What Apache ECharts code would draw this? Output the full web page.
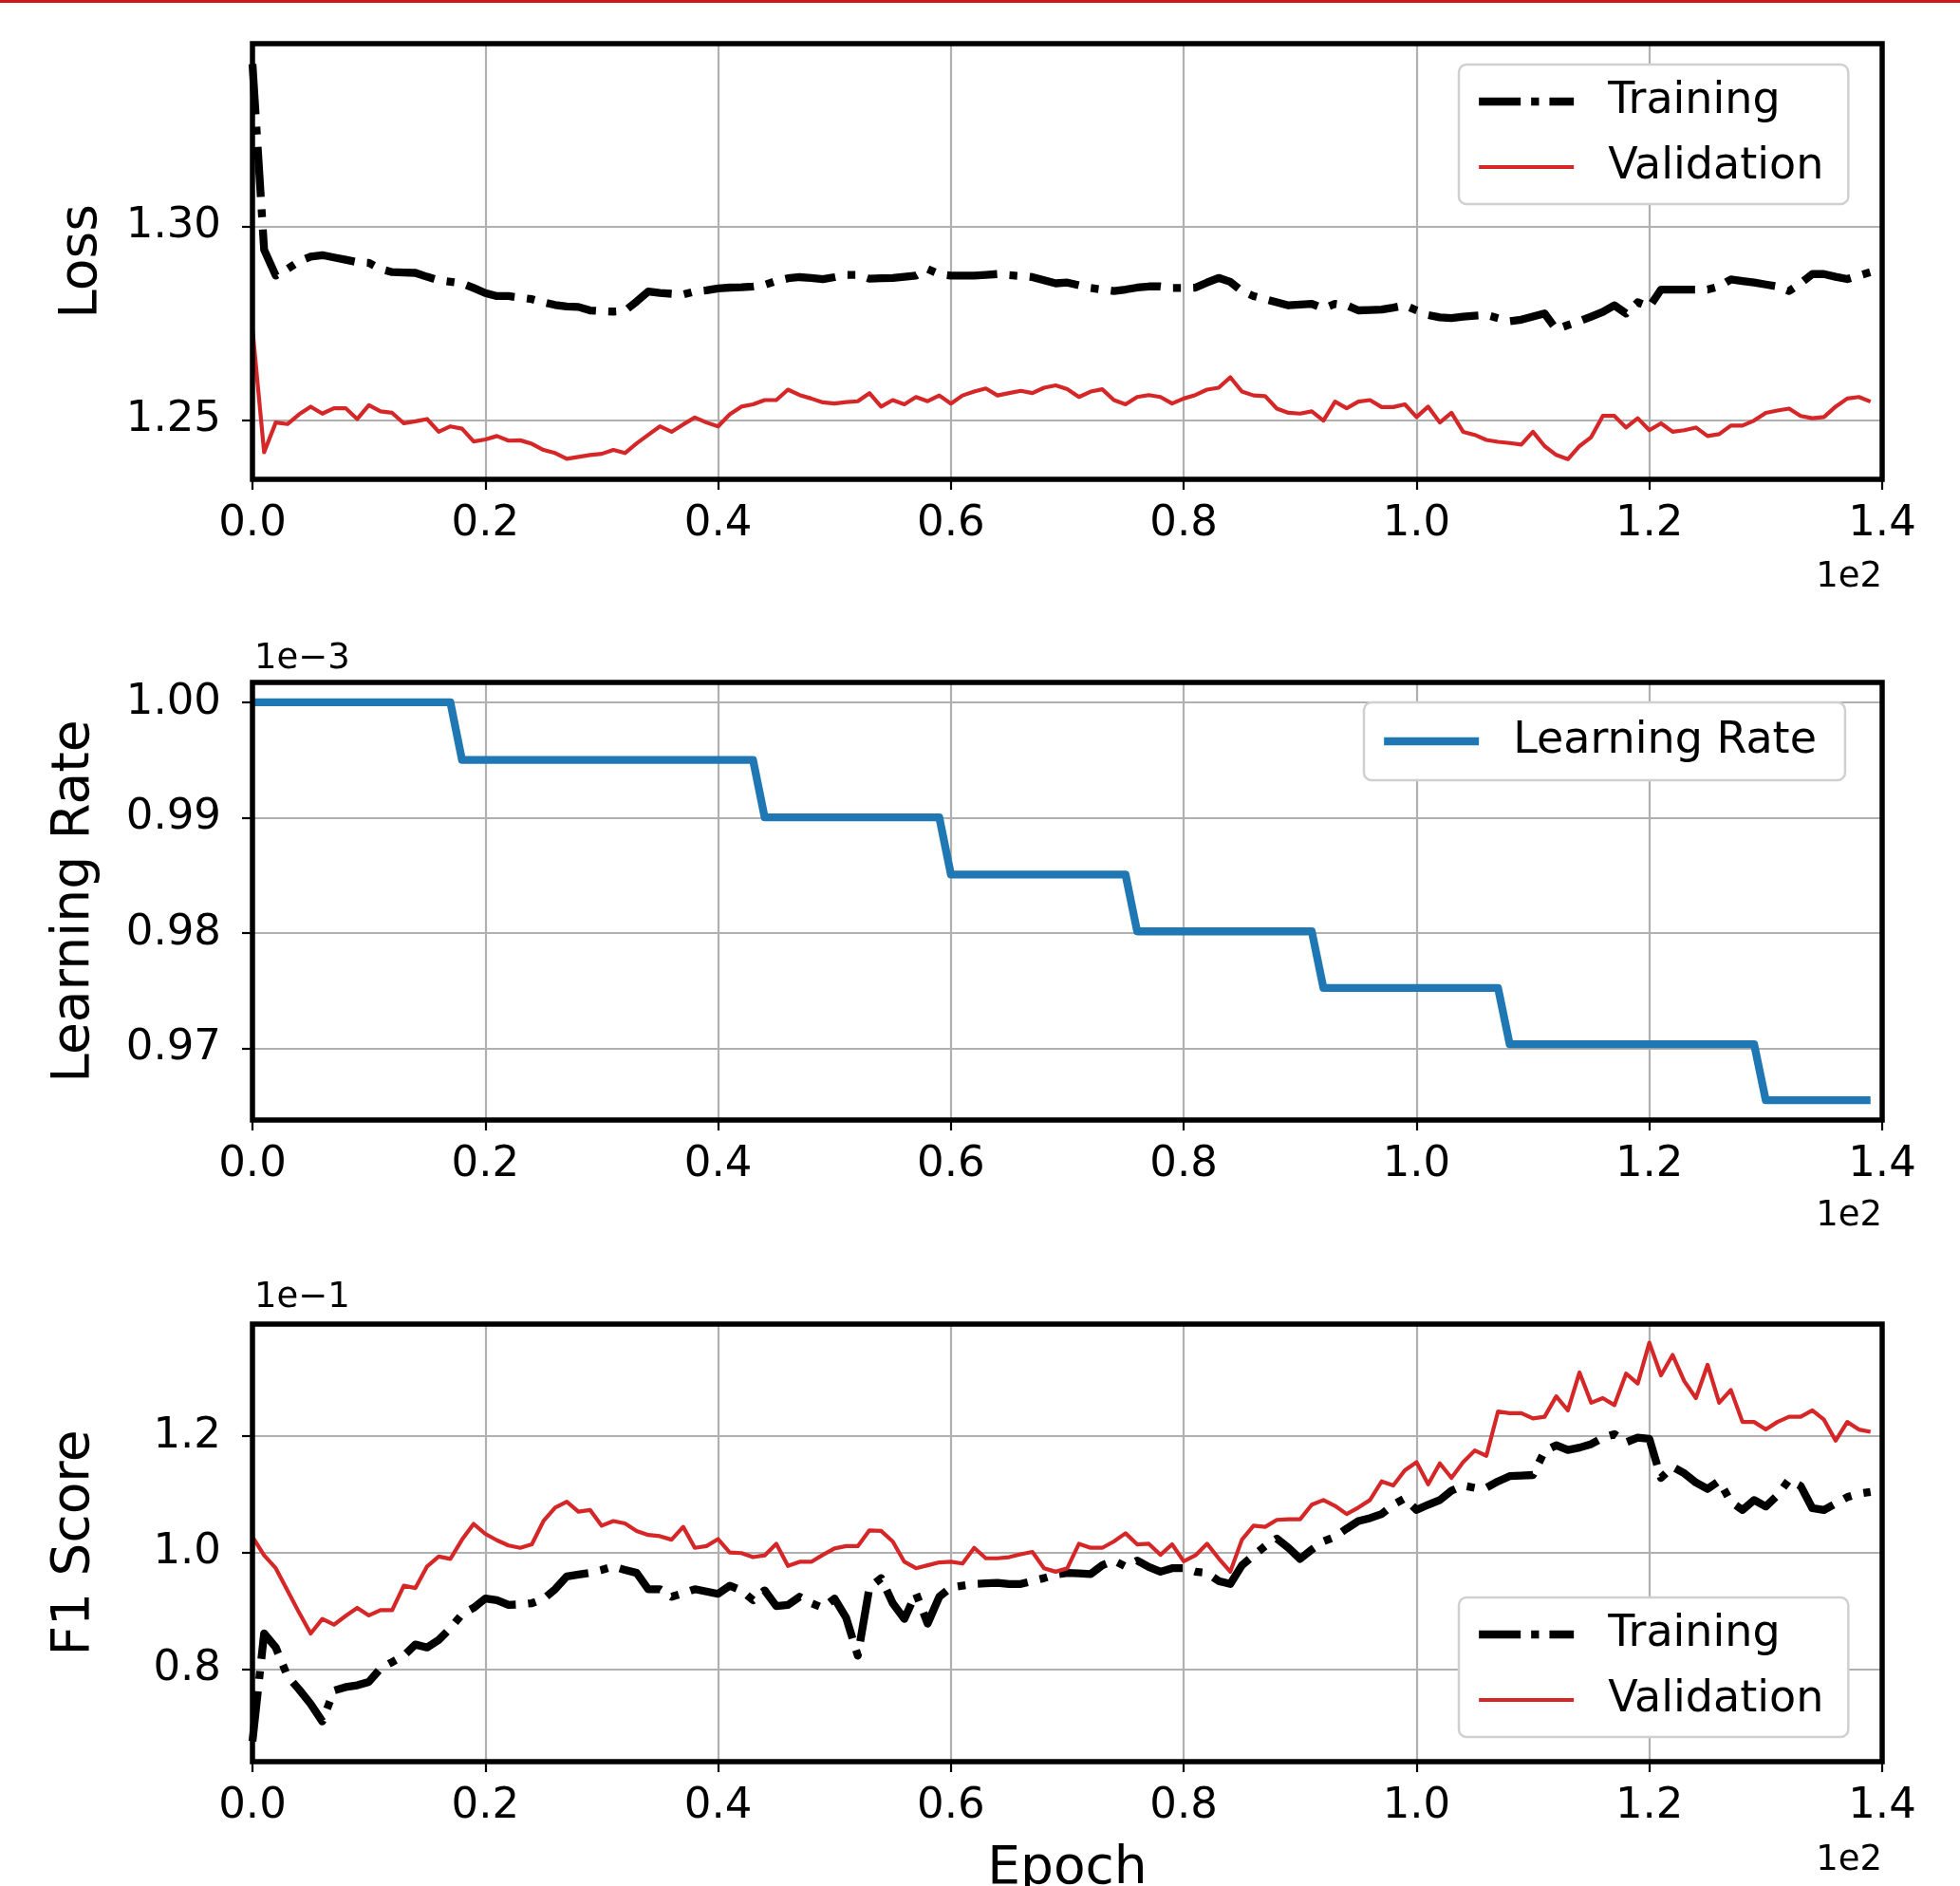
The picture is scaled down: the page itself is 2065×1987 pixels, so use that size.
<!DOCTYPE html>
<html>
<head>
<meta charset="utf-8">
<script src="https://cdn.jsdelivr.net/npm/echarts@6/dist/echarts.min.js"></script>
<style>
    html, body { margin: 0; padding: 0; background: #fff; }
    #chart_train { width: 2065px; height: 1987px; }
</style>
</head>
<body>
<div id="chart_train"></div>
<script>
// epochs 0..139, axis shown in units of 1e2
var epochs = Array.from({length: 140}, function (_, i) { return i; });
var xTicks = [0, 20, 40, 60, 80, 100, 120, 140];

var lossTicks = [1.25, 1.30];
var lrTicks = [0.97, 0.98, 0.99, 1.00];
var f1Ticks = [0.8, 1.0, 1.2];

var lossTrain = [
    1.342, 1.294, 1.2873, 1.289, 1.291, 1.2922, 1.2926, 1.292, 1.2914, 1.2908,
    1.2906, 1.289, 1.2882, 1.2881, 1.288, 1.287, 1.2861, 1.2857, 1.2853, 1.2841,
    1.2828, 1.282, 1.282, 1.2816, 1.2812, 1.2804, 1.2797, 1.2793, 1.2792, 1.2783,
    1.2781, 1.278, 1.2782, 1.2806, 1.2832, 1.2828, 1.2826, 1.2824, 1.2832, 1.2835,
    1.284, 1.2842, 1.2843, 1.2845, 1.2849, 1.2859, 1.2866, 1.2869, 1.2867, 1.2864,
    1.2869, 1.2875, 1.2875, 1.2865, 1.2866, 1.2867, 1.287, 1.2873, 1.289, 1.2877,
    1.2873, 1.2873, 1.2873, 1.2875, 1.2877, 1.2874, 1.2872, 1.2869, 1.2861, 1.2853,
    1.2855, 1.2848, 1.2841, 1.2837, 1.2833, 1.2837, 1.2842, 1.2845, 1.2845, 1.2841,
    1.2841, 1.2842, 1.2855, 1.2867, 1.2857, 1.2833, 1.282, 1.2812, 1.2804, 1.2796,
    1.2798, 1.28, 1.2788, 1.28, 1.2796, 1.2783, 1.2784, 1.2785, 1.279, 1.2796,
    1.2783, 1.2771, 1.2765, 1.2763, 1.2767, 1.2769, 1.2771, 1.2763, 1.2755, 1.2759,
    1.2767, 1.2775, 1.2734, 1.2745, 1.2755, 1.2767, 1.2779, 1.2796, 1.2775, 1.2804,
    1.2792, 1.2837, 1.2837, 1.2837, 1.2837, 1.2837, 1.2845, 1.2863, 1.2859, 1.2855,
    1.285, 1.2845, 1.2833, 1.2853, 1.2877, 1.2877, 1.287, 1.2864, 1.2873, 1.2882
];
var lossVal = [
    1.2735, 1.2416, 1.2493, 1.2489, 1.2514, 1.2534, 1.2516, 1.253, 1.253, 1.2502,
    1.2538, 1.2522, 1.2518, 1.2491, 1.2496, 1.2502, 1.2469, 1.2483, 1.2477, 1.2444,
    1.2449, 1.2458, 1.2446, 1.2447, 1.2438, 1.2422, 1.2414, 1.2399, 1.2404, 1.2409,
    1.2412, 1.2422, 1.2414, 1.2439, 1.2461, 1.2483, 1.2469, 1.2488, 1.2506, 1.2493,
    1.2483, 1.2514, 1.2534, 1.254, 1.2551, 1.2551, 1.2578, 1.2564, 1.2555, 1.2545,
    1.2542, 1.2546, 1.2548, 1.2569, 1.2534, 1.2551, 1.254, 1.2559, 1.2548, 1.2563,
    1.2542, 1.2563, 1.2573, 1.2581, 1.2563, 1.2569, 1.2575, 1.2569, 1.2583, 1.2589,
    1.2579, 1.2559, 1.2573, 1.2579, 1.2551, 1.254, 1.2559, 1.2564, 1.2559, 1.2542,
    1.2555, 1.2564, 1.2578, 1.2583, 1.261, 1.2573, 1.2563, 1.2561, 1.2529, 1.2518,
    1.2516, 1.2522, 1.2498, 1.2547, 1.253, 1.2547, 1.2551, 1.2533, 1.2533, 1.254,
    1.2507, 1.2534, 1.2493, 1.2518, 1.2469, 1.2461, 1.2448, 1.2443, 1.244, 1.2436,
    1.2469, 1.2432, 1.2409, 1.2398, 1.2432, 1.2455, 1.251, 1.251, 1.248, 1.2504,
    1.2473, 1.2491, 1.2469, 1.2473, 1.248, 1.2458, 1.2463, 1.2485, 1.2485, 1.2498,
    1.2518, 1.2524, 1.2529, 1.251, 1.2504, 1.2507, 1.2534, 1.2555, 1.2559, 1.2547
];

// learning rate, units of 1e-3
var lrValues = [
    1.0, 1.0, 1.0, 1.0, 1.0, 1.0, 1.0, 1.0, 1.0, 1.0,
    1.0, 1.0, 1.0, 1.0, 1.0, 1.0, 1.0, 1.0, 0.995, 0.995,
    0.995, 0.995, 0.995, 0.995, 0.995, 0.995, 0.995, 0.995, 0.995, 0.995,
    0.995, 0.995, 0.995, 0.995, 0.995, 0.995, 0.995, 0.995, 0.995, 0.995,
    0.995, 0.995, 0.995, 0.995, 0.990025, 0.990025, 0.990025, 0.990025, 0.990025, 0.990025,
    0.990025, 0.990025, 0.990025, 0.990025, 0.990025, 0.990025, 0.990025, 0.990025, 0.990025, 0.990025,
    0.985075, 0.985075, 0.985075, 0.985075, 0.985075, 0.985075, 0.985075, 0.985075, 0.985075, 0.985075,
    0.985075, 0.985075, 0.985075, 0.985075, 0.985075, 0.985075, 0.98015, 0.98015, 0.98015, 0.98015,
    0.98015, 0.98015, 0.98015, 0.98015, 0.98015, 0.98015, 0.98015, 0.98015, 0.98015, 0.98015,
    0.98015, 0.98015, 0.975249, 0.975249, 0.975249, 0.975249, 0.975249, 0.975249, 0.975249, 0.975249,
    0.975249, 0.975249, 0.975249, 0.975249, 0.975249, 0.975249, 0.975249, 0.975249, 0.970373, 0.970373,
    0.970373, 0.970373, 0.970373, 0.970373, 0.970373, 0.970373, 0.970373, 0.970373, 0.970373, 0.970373,
    0.970373, 0.970373, 0.970373, 0.970373, 0.970373, 0.970373, 0.970373, 0.970373, 0.970373, 0.970373,
    0.965521, 0.965521, 0.965521, 0.965521, 0.965521, 0.965521, 0.965521, 0.965521, 0.965521, 0.965521
];

// F1, units of 1e-1
var f1Train = [
    0.676, 0.861, 0.837, 0.788, 0.765, 0.74, 0.71, 0.763, 0.769, 0.772,
    0.778, 0.801, 0.812, 0.823, 0.842, 0.837, 0.85, 0.87, 0.894, 0.905,
    0.921, 0.918, 0.91, 0.911, 0.913, 0.92, 0.937, 0.959, 0.962, 0.965,
    0.97, 0.976, 0.97, 0.965, 0.937, 0.937, 0.924, 0.93, 0.937, 0.933,
    0.929, 0.943, 0.935, 0.918, 0.935, 0.908, 0.91, 0.924, 0.913, 0.905,
    0.921, 0.888, 0.823, 0.94, 0.956, 0.913, 0.886, 0.93, 0.878, 0.924,
    0.94, 0.943, 0.946, 0.947, 0.948, 0.946, 0.946, 0.951, 0.956, 0.962,
    0.965, 0.964, 0.963, 0.978, 0.986, 0.976, 0.986, 0.975, 0.967, 0.973,
    0.973, 0.967, 0.965, 0.951, 0.946, 0.978, 0.995, 1.011, 1.024, 1.008,
    0.989, 1.005, 1.019, 1.027, 1.041, 1.054, 1.059, 1.066, 1.082, 1.093,
    1.073, 1.082, 1.09, 1.106, 1.115, 1.111, 1.111, 1.122, 1.131, 1.132,
    1.133, 1.174, 1.184, 1.176, 1.18, 1.186, 1.197, 1.203, 1.189, 1.197,
    1.195, 1.128, 1.147, 1.136, 1.12, 1.109, 1.123, 1.087, 1.073, 1.09,
    1.079, 1.098, 1.125, 1.114, 1.076, 1.073, 1.084, 1.095, 1.101, 1.104
];
var f1Val = [
    1.027, 0.995, 0.973, 0.935, 0.897, 0.861, 0.886, 0.876, 0.891, 0.905,
    0.892, 0.901, 0.901, 0.943, 0.939, 0.976, 0.993, 0.989, 1.022, 1.049,
    1.032, 1.021, 1.012, 1.008, 1.014, 1.054, 1.077, 1.087, 1.07, 1.073,
    1.046, 1.054, 1.05, 1.037, 1.03, 1.028, 1.022, 1.044, 1.008, 1.011,
    1.023, 1.0, 0.999, 0.992, 0.995, 1.015, 0.977, 0.984, 0.984, 0.996,
    1.007, 1.011, 1.011, 1.038, 1.037, 1.019, 0.984, 0.973, 0.978, 0.983,
    0.984, 0.981, 1.008, 0.99, 0.99, 0.992, 0.997, 1.001, 0.973, 0.967,
    0.973, 1.015, 1.008, 1.008, 1.019, 1.033, 1.014, 1.015, 0.996, 1.014,
    0.985, 0.995, 1.015, 0.99, 0.967, 1.022, 1.046, 1.044, 1.056, 1.057,
    1.057, 1.082, 1.09, 1.08, 1.066, 1.077, 1.09, 1.122, 1.115, 1.141,
    1.155, 1.117, 1.153, 1.128, 1.155, 1.175, 1.166, 1.242, 1.239, 1.239,
    1.23, 1.233, 1.268, 1.244, 1.309, 1.257, 1.265, 1.253, 1.307, 1.29,
    1.36, 1.304, 1.339, 1.294, 1.265, 1.322, 1.257, 1.279, 1.224, 1.224,
    1.211, 1.224, 1.233, 1.233, 1.244, 1.228, 1.192, 1.224, 1.211, 1.207
];

var FONT = 'DejaVu Sans';
var myChart = echarts.init(document.getElementById('chart_train'));

function pairs(ys) {
    return epochs.map(function (e, i) { return [e, ys[i]]; });
}

var grids = [
    {left: 266, width: 1717, top: 46, height: 459},
    {left: 266, width: 1717, top: 719, height: 461},
    {left: 266, width: 1717, top: 1395, height: 461}
].map(function (g) {
    return Object.assign({
        show: true, z: 5, borderColor: '#000', borderWidth: 5.5,
        backgroundColor: 'transparent',
        outerBoundsMode: 'none'   // keep the box fixed, the name may run off the page
    }, g);
});

function xAxis(idx, withName) {
    return {
        type: 'value', gridIndex: idx, min: 0, max: 140, interval: 20,
        axisLine: {show: false},
        axisTick: {show: true, length: 11, lineStyle: {color: '#000', width: 2.2}},
        axisLabel: {
            fontFamily: FONT, fontSize: 45, color: '#000', margin: 25,
            formatter: function (v) { return (v / 100).toFixed(1); }
        },
        splitLine: {show: true, lineStyle: {color: '#b0b0b0', width: 2.2}},
        name: withName ? 'Epoch' : '',
        nameLocation: 'middle', nameGap: 86,
        nameTextStyle: {fontFamily: FONT, fontSize: 55, color: '#000'}
    };
}

function yAxis(idx, min, max, ticks, digits, name, gap) {
    return {
        type: 'value', gridIndex: idx, min: min, max: max,
        axisLine: {show: false},
        axisTick: {show: true, length: 11, customValues: ticks, lineStyle: {color: '#000', width: 2.2}},
        axisLabel: {
            fontFamily: FONT, fontSize: 45, color: '#000', margin: 33, customValues: ticks,
            formatter: function (v) { return v.toFixed(digits); }
        },
        splitLine: {show: true, lineStyle: {color: '#b0b0b0', width: 2.2}},
        name: name, nameLocation: 'middle', nameGap: gap, nameRotate: 90,
        nameTextStyle: {fontFamily: FONT, fontSize: 55, color: '#000'}
    };
}

var dashDot = [53, 13, 8.3, 13];
var legendDash = [44, 11, 8.3, 11];

function lineSeries(name, idx, ys, color, width, type) {
    return {
        name: name, type: 'line', xAxisIndex: idx, yAxisIndex: idx,
        data: pairs(ys), symbol: 'none', showSymbol: false,
        lineStyle: {color: color, width: width, type: type, cap: 'butt', join: 'round'},
        itemStyle: {color: color},
        z: 2
    };
}

// legend entries carry their own line look
var trainItem = {name: 'Training', lineStyle: {color: '#000', width: 8.3, type: legendDash, cap: 'butt'}};
var valItem = {name: 'Validation', lineStyle: {color: '#d62728', width: 4.2, type: 'solid'}};
var lrItem = {name: 'Learning Rate', lineStyle: {color: '#1f77b4', width: 8.3, type: 'solid'}};

function legendBox(left, top, items, padding) {
    return {
        left: left, top: top, orient: 'vertical',
        data: items,
        itemWidth: 100, itemHeight: 20, itemGap: 19,
        padding: padding,
        backgroundColor: '#fff', borderColor: '#d0d0d0', borderWidth: 2.5, borderRadius: 8,
        selectedMode: false,
        itemStyle: {opacity: 0},
        textStyle: {fontFamily: FONT, fontSize: 46, color: '#000', lineHeight: 50, padding: [0, 0, 0, 31]},
        z: 10
    };
}

function offsetText(text, x, y, align) {
    return {
        type: 'text', x: x, y: y, z: 20,
        style: {text: text, fontFamily: FONT, fontSize: 37, fill: '#000', align: align, verticalAlign: 'middle'}
    };
}

var option = {
    animation: false,
    backgroundColor: '#fff',
    grid: grids,
    xAxis: [xAxis(0, false), xAxis(1, false), xAxis(2, true)],
    yAxis: [
        yAxis(0, 1.2346, 1.3473, lossTicks, 2, 'Loss', 152),
        yAxis(1, 0.96380, 1.00172, lrTicks, 2, 'Learning Rate', 160),
        yAxis(2, 0.641, 1.392, f1Ticks, 1, 'F1 Score', 160)
    ],
    legend: [
        legendBox(1537, 68, [trainItem, valItem], [14, 26, 14, 17]),
        legendBox(1437, 740, [lrItem], [16, 30, 16, 17]),
        legendBox(1537, 1683, [trainItem, valItem], [14, 26, 14, 17])
    ],
    series: [
        lineSeries('Training', 0, lossTrain, '#000', 8.3, dashDot),
        lineSeries('Validation', 0, lossVal, '#d62728', 4.2, 'solid'),
        lineSeries('Learning Rate', 1, lrValues, '#1f77b4', 8.3, 'solid'),
        lineSeries('Training', 2, f1Train, '#000', 8.3, dashDot),
        lineSeries('Validation', 2, f1Val, '#d62728', 4.2, 'solid')
    ],
    graphic: [
        {type: 'rect', shape: {x: 0, y: 0, width: 2065, height: 3}, style: {fill: '#d0161b'}, z: 30},
        offsetText('1e2', 1983, 608, 'right'),
        offsetText('1e2', 1983, 1281, 'right'),
        offsetText('1e2', 1983, 1960, 'right'),
        offsetText('1e\u22123', 268, 694, 'left'),
        offsetText('1e\u22121', 268, 1367, 'left')
    ]
};

myChart.setOption(option);
window.addEventListener('resize', function () {
    myChart.resize();
});
</script>
</body>
</html>
